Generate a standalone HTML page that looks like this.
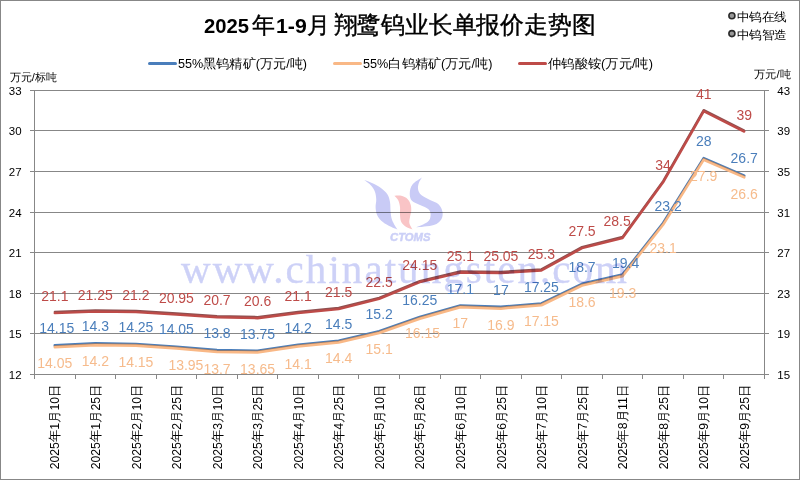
<!DOCTYPE html><html><head><meta charset="utf-8"><style>html,body{margin:0;padding:0;background:#fff;}svg{display:block;font-family:"Liberation Sans",sans-serif;}</style></head><body>
<svg width="800" height="480" viewBox="0 0 800 480">
<defs><filter id="bl" x="-10%" y="-10%" width="120%" height="120%"><feGaussianBlur stdDeviation="0.45"/></filter></defs>
<rect x="0" y="0" width="800" height="480" fill="#fff"/>
<rect x="0.5" y="0.5" width="799" height="479" fill="none" stroke="#878787" stroke-width="1"/>
<line x1="30" y1="90.5" x2="769" y2="90.5" stroke="#878787" stroke-width="1"/>
<text x="8.8" y="94.8" font-size="11.2" textLength="12.8" lengthAdjust="spacingAndGlyphs" fill="#000">33</text>
<text x="777.3" y="94.8" font-size="11.2" textLength="12.8" lengthAdjust="spacingAndGlyphs" fill="#000">43</text>
<line x1="30" y1="130.5" x2="769" y2="130.5" stroke="#878787" stroke-width="1"/>
<text x="8.8" y="134.8" font-size="11.2" textLength="12.8" lengthAdjust="spacingAndGlyphs" fill="#000">30</text>
<text x="777.3" y="134.8" font-size="11.2" textLength="12.8" lengthAdjust="spacingAndGlyphs" fill="#000">39</text>
<line x1="30" y1="171.5" x2="769" y2="171.5" stroke="#878787" stroke-width="1"/>
<text x="8.8" y="175.8" font-size="11.2" textLength="12.8" lengthAdjust="spacingAndGlyphs" fill="#000">27</text>
<text x="777.3" y="175.8" font-size="11.2" textLength="12.8" lengthAdjust="spacingAndGlyphs" fill="#000">35</text>
<line x1="30" y1="212.5" x2="769" y2="212.5" stroke="#878787" stroke-width="1"/>
<text x="8.8" y="216.8" font-size="11.2" textLength="12.8" lengthAdjust="spacingAndGlyphs" fill="#000">24</text>
<text x="777.3" y="216.8" font-size="11.2" textLength="12.8" lengthAdjust="spacingAndGlyphs" fill="#000">31</text>
<line x1="30" y1="252.5" x2="769" y2="252.5" stroke="#878787" stroke-width="1"/>
<text x="8.8" y="256.8" font-size="11.2" textLength="12.8" lengthAdjust="spacingAndGlyphs" fill="#000">21</text>
<text x="777.3" y="256.8" font-size="11.2" textLength="12.8" lengthAdjust="spacingAndGlyphs" fill="#000">27</text>
<line x1="30" y1="293.5" x2="769" y2="293.5" stroke="#878787" stroke-width="1"/>
<text x="8.8" y="297.8" font-size="11.2" textLength="12.8" lengthAdjust="spacingAndGlyphs" fill="#000">18</text>
<text x="777.3" y="297.8" font-size="11.2" textLength="12.8" lengthAdjust="spacingAndGlyphs" fill="#000">23</text>
<line x1="30" y1="333.5" x2="769" y2="333.5" stroke="#878787" stroke-width="1"/>
<text x="8.8" y="337.8" font-size="11.2" textLength="12.8" lengthAdjust="spacingAndGlyphs" fill="#000">15</text>
<text x="777.3" y="337.8" font-size="11.2" textLength="12.8" lengthAdjust="spacingAndGlyphs" fill="#000">19</text>
<line x1="30" y1="374.5" x2="769" y2="374.5" stroke="#878787" stroke-width="1"/>
<text x="8.8" y="378.8" font-size="11.2" textLength="12.8" lengthAdjust="spacingAndGlyphs" fill="#000">12</text>
<text x="777.3" y="378.8" font-size="11.2" textLength="12.8" lengthAdjust="spacingAndGlyphs" fill="#000">15</text>
<line x1="34.5" y1="90" x2="34.5" y2="379" stroke="#878787" stroke-width="1"/>
<line x1="764.5" y1="90" x2="764.5" y2="379" stroke="#878787" stroke-width="1"/>
<line x1="34.5" y1="374" x2="34.5" y2="379" stroke="#878787" stroke-width="1"/>
<line x1="75.5" y1="374" x2="75.5" y2="379" stroke="#878787" stroke-width="1"/>
<line x1="115.5" y1="374" x2="115.5" y2="379" stroke="#878787" stroke-width="1"/>
<line x1="156.5" y1="374" x2="156.5" y2="379" stroke="#878787" stroke-width="1"/>
<line x1="196.5" y1="374" x2="196.5" y2="379" stroke="#878787" stroke-width="1"/>
<line x1="237.5" y1="374" x2="237.5" y2="379" stroke="#878787" stroke-width="1"/>
<line x1="277.5" y1="374" x2="277.5" y2="379" stroke="#878787" stroke-width="1"/>
<line x1="318.5" y1="374" x2="318.5" y2="379" stroke="#878787" stroke-width="1"/>
<line x1="358.5" y1="374" x2="358.5" y2="379" stroke="#878787" stroke-width="1"/>
<line x1="399.5" y1="374" x2="399.5" y2="379" stroke="#878787" stroke-width="1"/>
<line x1="440.5" y1="374" x2="440.5" y2="379" stroke="#878787" stroke-width="1"/>
<line x1="480.5" y1="374" x2="480.5" y2="379" stroke="#878787" stroke-width="1"/>
<line x1="521.5" y1="374" x2="521.5" y2="379" stroke="#878787" stroke-width="1"/>
<line x1="561.5" y1="374" x2="561.5" y2="379" stroke="#878787" stroke-width="1"/>
<line x1="602.5" y1="374" x2="602.5" y2="379" stroke="#878787" stroke-width="1"/>
<line x1="642.5" y1="374" x2="642.5" y2="379" stroke="#878787" stroke-width="1"/>
<line x1="683.5" y1="374" x2="683.5" y2="379" stroke="#878787" stroke-width="1"/>
<line x1="723.5" y1="374" x2="723.5" y2="379" stroke="#878787" stroke-width="1"/>
<line x1="764.5" y1="374" x2="764.5" y2="379" stroke="#878787" stroke-width="1"/>
<text transform="translate(59.4 469.2) rotate(-90)" font-size="12.8" textLength="84.5"  lengthAdjust="spacingAndGlyphs" fill="#000">2025年1月10日</text>
<text transform="translate(99.9 469.2) rotate(-90)" font-size="12.8" textLength="84.5"  lengthAdjust="spacingAndGlyphs" fill="#000">2025年1月25日</text>
<text transform="translate(140.5 469.2) rotate(-90)" font-size="12.8" textLength="84.5"  lengthAdjust="spacingAndGlyphs" fill="#000">2025年2月10日</text>
<text transform="translate(181.0 469.2) rotate(-90)" font-size="12.8" textLength="84.5"  lengthAdjust="spacingAndGlyphs" fill="#000">2025年2月25日</text>
<text transform="translate(221.6 469.2) rotate(-90)" font-size="12.8" textLength="84.5"  lengthAdjust="spacingAndGlyphs" fill="#000">2025年3月10日</text>
<text transform="translate(262.2 469.2) rotate(-90)" font-size="12.8" textLength="84.5"  lengthAdjust="spacingAndGlyphs" fill="#000">2025年3月25日</text>
<text transform="translate(302.7 469.2) rotate(-90)" font-size="12.8" textLength="84.5"  lengthAdjust="spacingAndGlyphs" fill="#000">2025年4月10日</text>
<text transform="translate(343.3 469.2) rotate(-90)" font-size="12.8" textLength="84.5"  lengthAdjust="spacingAndGlyphs" fill="#000">2025年4月25日</text>
<text transform="translate(383.8 469.2) rotate(-90)" font-size="12.8" textLength="84.5"  lengthAdjust="spacingAndGlyphs" fill="#000">2025年5月10日</text>
<text transform="translate(424.4 469.2) rotate(-90)" font-size="12.8" textLength="84.5"  lengthAdjust="spacingAndGlyphs" fill="#000">2025年5月26日</text>
<text transform="translate(464.9 469.2) rotate(-90)" font-size="12.8" textLength="84.5"  lengthAdjust="spacingAndGlyphs" fill="#000">2025年6月10日</text>
<text transform="translate(505.5 469.2) rotate(-90)" font-size="12.8" textLength="84.5"  lengthAdjust="spacingAndGlyphs" fill="#000">2025年6月25日</text>
<text transform="translate(546.0 469.2) rotate(-90)" font-size="12.8" textLength="84.5"  lengthAdjust="spacingAndGlyphs" fill="#000">2025年7月10日</text>
<text transform="translate(586.6 469.2) rotate(-90)" font-size="12.8" textLength="84.5"  lengthAdjust="spacingAndGlyphs" fill="#000">2025年7月25日</text>
<text transform="translate(627.2 469.2) rotate(-90)" font-size="12.8" textLength="84.5"  lengthAdjust="spacingAndGlyphs" fill="#000">2025年8月11日</text>
<text transform="translate(667.7 469.2) rotate(-90)" font-size="12.8" textLength="84.5"  lengthAdjust="spacingAndGlyphs" fill="#000">2025年8月25日</text>
<text transform="translate(708.3 469.2) rotate(-90)" font-size="12.8" textLength="84.5"  lengthAdjust="spacingAndGlyphs" fill="#000">2025年9月10日</text>
<text transform="translate(748.8 469.2) rotate(-90)" font-size="12.8" textLength="84.5"  lengthAdjust="spacingAndGlyphs" fill="#000">2025年9月25日</text>
<path d="M54.78 345.42 L95.33 343.40 L135.89 344.07 L176.44 346.78 L217.00 350.16 L257.56 350.83 L298.11 344.75 L338.67 340.69 L379.22 331.22 L419.78 317.02 L460.33 305.53 L500.89 306.88 L541.44 303.50 L582.00 283.89 L622.56 274.42 L663.11 223.03 L703.67 158.12 L744.22 175.70" fill="none" stroke="#4a7ebb" stroke-width="2.6" stroke-linejoin="round" stroke-linecap="round"/>
<path d="M54.78 346.78 L95.33 344.75 L135.89 345.42 L176.44 348.13 L217.00 351.51 L257.56 352.19 L298.11 346.10 L338.67 342.04 L379.22 332.58 L419.78 318.38 L460.33 306.88 L500.89 308.23 L541.44 304.85 L582.00 285.24 L622.56 275.78 L663.11 224.39 L703.67 159.47 L744.22 177.05" fill="none" stroke="#9a7a66" stroke-width="2.0" stroke-linejoin="round" stroke-linecap="round" transform="translate(0 -0.6)"/>
<path d="M54.78 346.78 L95.33 344.75 L135.89 345.42 L176.44 348.13 L217.00 351.51 L257.56 352.19 L298.11 346.10 L338.67 342.04 L379.22 332.58 L419.78 318.38 L460.33 306.88 L500.89 308.23 L541.44 304.85 L582.00 285.24 L622.56 275.78 L663.11 224.39 L703.67 159.47 L744.22 177.05" fill="none" stroke="#f9b886" stroke-width="2.5" stroke-linejoin="round" stroke-linecap="round" transform="translate(0 0.4)"/>
<path d="M54.78 312.63 L95.33 311.11 L135.89 311.61 L176.44 314.15 L217.00 316.69 L257.56 317.70 L298.11 312.63 L338.67 308.57 L379.22 298.43 L419.78 281.69 L460.33 272.06 L500.89 272.56 L541.44 270.03 L582.00 247.71 L622.56 237.57 L663.11 181.79 L703.67 110.79 L744.22 131.07" fill="none" stroke="#8f5050" stroke-width="2.2" stroke-linejoin="round" stroke-linecap="round" transform="translate(0 -0.7)"/>
<path d="M54.78 312.63 L95.33 311.11 L135.89 311.61 L176.44 314.15 L217.00 316.69 L257.56 317.70 L298.11 312.63 L338.67 308.57 L379.22 298.43 L419.78 281.69 L460.33 272.06 L500.89 272.56 L541.44 270.03 L582.00 247.71 L622.56 237.57 L663.11 181.79 L703.67 110.79 L744.22 131.07" fill="none" stroke="#be4b48" stroke-width="2.4" stroke-linejoin="round" stroke-linecap="round" transform="translate(0 0.5)"/>
<text x="56.8" y="332.7" font-size="14" text-anchor="middle" fill="#4a7ebb">14.15</text>
<text x="54.8" y="368.1" font-size="14" text-anchor="middle" fill="#f6bb8c">14.05</text>
<text x="54.8" y="301.1" font-size="14" text-anchor="middle" fill="#be4b48">21.1</text>
<text x="95.3" y="331.4" font-size="14" text-anchor="middle" fill="#4a7ebb">14.3</text>
<text x="95.3" y="366.0" font-size="14" text-anchor="middle" fill="#f6bb8c">14.2</text>
<text x="95.3" y="299.6" font-size="14" text-anchor="middle" fill="#be4b48">21.25</text>
<text x="135.9" y="332.1" font-size="14" text-anchor="middle" fill="#4a7ebb">14.25</text>
<text x="135.9" y="366.7" font-size="14" text-anchor="middle" fill="#f6bb8c">14.15</text>
<text x="135.9" y="300.1" font-size="14" text-anchor="middle" fill="#be4b48">21.2</text>
<text x="176.4" y="333.8" font-size="14" text-anchor="middle" fill="#4a7ebb">14.05</text>
<text x="185.9" y="370.4" font-size="14" text-anchor="middle" fill="#f6bb8c">13.95</text>
<text x="176.4" y="302.6" font-size="14" text-anchor="middle" fill="#be4b48">20.95</text>
<text x="217.0" y="338.2" font-size="14" text-anchor="middle" fill="#4a7ebb">13.8</text>
<text x="217.0" y="373.8" font-size="14" text-anchor="middle" fill="#f6bb8c">13.7</text>
<text x="217.0" y="305.2" font-size="14" text-anchor="middle" fill="#be4b48">20.7</text>
<text x="257.6" y="338.8" font-size="14" text-anchor="middle" fill="#4a7ebb">13.75</text>
<text x="257.6" y="374.2" font-size="14" text-anchor="middle" fill="#f6bb8c">13.65</text>
<text x="257.6" y="306.2" font-size="14" text-anchor="middle" fill="#be4b48">20.6</text>
<text x="298.1" y="332.7" font-size="14" text-anchor="middle" fill="#4a7ebb">14.2</text>
<text x="298.1" y="368.9" font-size="14" text-anchor="middle" fill="#f6bb8c">14.1</text>
<text x="298.1" y="301.1" font-size="14" text-anchor="middle" fill="#be4b48">21.1</text>
<text x="338.7" y="328.7" font-size="14" text-anchor="middle" fill="#4a7ebb">14.5</text>
<text x="338.7" y="363.3" font-size="14" text-anchor="middle" fill="#f6bb8c">14.4</text>
<text x="338.7" y="297.1" font-size="14" text-anchor="middle" fill="#be4b48">21.5</text>
<text x="379.2" y="319.2" font-size="14" text-anchor="middle" fill="#4a7ebb">15.2</text>
<text x="379.2" y="353.9" font-size="14" text-anchor="middle" fill="#f6bb8c">15.1</text>
<text x="379.2" y="286.9" font-size="14" text-anchor="middle" fill="#be4b48">22.5</text>
<text x="419.8" y="305.0" font-size="14" text-anchor="middle" fill="#4a7ebb">16.25</text>
<text x="422.5" y="337.7" font-size="14" text-anchor="middle" fill="#f6bb8c">16.15</text>
<text x="419.8" y="270.2" font-size="14" text-anchor="middle" fill="#be4b48">24.15</text>
<text x="460.3" y="293.5" font-size="14" text-anchor="middle" fill="#4a7ebb">17.1</text>
<text x="460.3" y="328.2" font-size="14" text-anchor="middle" fill="#f6bb8c">17</text>
<text x="460.3" y="260.6" font-size="14" text-anchor="middle" fill="#be4b48">25.1</text>
<text x="500.9" y="294.9" font-size="14" text-anchor="middle" fill="#4a7ebb">17</text>
<text x="500.9" y="329.5" font-size="14" text-anchor="middle" fill="#f6bb8c">16.9</text>
<text x="500.9" y="261.1" font-size="14" text-anchor="middle" fill="#be4b48">25.05</text>
<text x="541.4" y="291.5" font-size="14" text-anchor="middle" fill="#4a7ebb">17.25</text>
<text x="541.4" y="326.2" font-size="14" text-anchor="middle" fill="#f6bb8c">17.15</text>
<text x="541.4" y="258.5" font-size="14" text-anchor="middle" fill="#be4b48">25.3</text>
<text x="582.0" y="271.9" font-size="14" text-anchor="middle" fill="#4a7ebb">18.7</text>
<text x="582.0" y="306.5" font-size="14" text-anchor="middle" fill="#f6bb8c">18.6</text>
<text x="582.0" y="236.2" font-size="14" text-anchor="middle" fill="#be4b48">27.5</text>
<text x="625.6" y="268.4" font-size="14" text-anchor="middle" fill="#4a7ebb">19.4</text>
<text x="622.6" y="298.1" font-size="14" text-anchor="middle" fill="#f6bb8c">19.3</text>
<text x="617.1" y="226.1" font-size="14" text-anchor="middle" fill="#be4b48">28.5</text>
<text x="668.1" y="211.0" font-size="14" text-anchor="middle" fill="#4a7ebb">23.2</text>
<text x="663.1" y="252.7" font-size="14" text-anchor="middle" fill="#f6bb8c">23.1</text>
<text x="663.1" y="170.3" font-size="14" text-anchor="middle" fill="#be4b48">34</text>
<text x="703.7" y="146.1" font-size="14" text-anchor="middle" fill="#4a7ebb">28</text>
<text x="703.7" y="180.8" font-size="14" text-anchor="middle" fill="#f6bb8c">27.9</text>
<text x="703.7" y="99.3" font-size="14" text-anchor="middle" fill="#be4b48">41</text>
<text x="744.2" y="162.7" font-size="14" text-anchor="middle" fill="#4a7ebb">26.7</text>
<text x="744.2" y="199.4" font-size="14" text-anchor="middle" fill="#f6bb8c">26.6</text>
<text x="744.2" y="119.6" font-size="14" text-anchor="middle" fill="#be4b48">39</text>
<text style="mix-blend-mode:multiply" x="181" y="282.5" font-family="Liberation Serif,serif" font-size="41" fill="#cdd1f7" stroke="#cdd1f7" stroke-width="0.35" textLength="446" lengthAdjust="spacing">www.chinatungsten.com</text>
<g filter="url(#bl)" style="mix-blend-mode:multiply">
<path fill="#c9cbf6" d="M364.40 180.10 C365.75 180.62 369.69 181.89 372.50 183.25 C375.31 184.61 378.75 186.38 381.25 188.25 C383.75 190.12 386.04 192.21 387.50 194.50 C388.96 196.79 389.48 199.08 390.00 202.00 C390.52 204.92 390.28 209.08 390.60 212.00 C390.92 214.92 391.17 217.21 391.90 219.50 C392.63 221.79 394.07 224.08 395.00 225.75 C395.93 227.42 397.08 228.88 397.50 229.50 C396.04 228.88 391.46 227.21 388.75 225.75 C386.04 224.29 383.23 222.62 381.25 220.75 C379.27 218.88 377.84 216.79 376.90 214.50 C375.96 212.21 375.71 209.50 375.60 207.00 C375.49 204.50 376.35 202.00 376.25 199.50 C376.15 197.00 375.83 194.29 375.00 192.00 C374.17 189.71 373.02 187.73 371.25 185.75 C369.48 183.77 365.54 181.04 364.40 180.10Z"/>
<path fill="#c9cbf6" d="M421.90 177.60 C420.33 178.75 414.52 181.89 412.50 184.50 C410.48 187.11 409.85 190.54 409.75 193.25 C409.65 195.96 410.19 198.78 411.90 200.75 C413.61 202.72 417.19 203.64 420.00 205.10 C422.81 206.56 426.98 207.72 428.75 209.50 C430.52 211.28 430.81 213.67 430.60 215.75 C430.39 217.83 430.00 220.03 427.50 222.00 C425.00 223.97 417.58 226.67 415.60 227.60 C418.62 227.18 429.48 226.45 433.75 225.10 C438.02 223.75 439.79 221.68 441.25 219.50 C442.71 217.32 442.92 214.50 442.50 212.00 C442.08 209.50 440.83 206.48 438.75 204.50 C436.67 202.52 432.92 201.67 430.00 200.10 C427.08 198.53 423.23 196.87 421.25 195.10 C419.27 193.33 418.52 191.47 418.10 189.50 C417.68 187.53 418.12 185.23 418.75 183.25 C419.38 181.27 421.38 178.54 421.90 177.60Z"/>
<path fill="#f9c4c6" d="M394.40 195.75 C395.54 195.75 399.07 195.22 401.25 195.75 C403.43 196.28 405.94 197.44 407.50 198.90 C409.06 200.36 409.98 202.53 410.60 204.50 C411.23 206.47 411.35 208.67 411.25 210.75 C411.15 212.83 410.31 214.92 410.00 217.00 C409.69 219.08 408.98 221.17 409.40 223.25 C409.82 225.33 411.98 228.46 412.50 229.50 C411.46 229.08 408.12 228.25 406.25 227.00 C404.38 225.75 402.29 224.08 401.25 222.00 C400.21 219.92 400.21 217.00 400.00 214.50 C399.79 212.00 400.32 209.40 400.00 207.00 C399.68 204.60 399.03 201.97 398.10 200.10 C397.17 198.22 395.02 196.47 394.40 195.75Z"/>
<text x="390" y="240.5" font-size="11.5" font-weight="bold" font-style="italic" fill="#ccd0f7" stroke="#ccd0f7" stroke-width="0.5" textLength="40.5" lengthAdjust="spacingAndGlyphs">CTOMS</text>
</g>
<text y="32.6" fill="#000"><tspan x="204" font-size="20" font-weight="bold" textLength="45" lengthAdjust="spacingAndGlyphs">2025</tspan><tspan x="251.5" font-size="23" font-weight="500" stroke="#000" stroke-width="0.4">年</tspan><tspan x="276" font-size="20" font-weight="bold" textLength="30.75" lengthAdjust="spacingAndGlyphs">1-9</tspan><tspan x="306.5" font-size="23" font-weight="500" stroke="#000" stroke-width="0.4">月</tspan><tspan x="333.5" font-size="23.5" font-weight="500" stroke="#000" stroke-width="0.4" textLength="262" lengthAdjust="spacingAndGlyphs">翔鹭钨业长单报价走势图</tspan></text>
<circle cx="731.9" cy="15.8" r="3" fill="#999" stroke="#2a2a2a" stroke-width="1.6"/><text x="736.5" y="20.8" font-size="11.6" textLength="50.5" lengthAdjust="spacingAndGlyphs" fill="#000">中钨在线</text>
<circle cx="731.9" cy="33.6" r="3" fill="#999" stroke="#2a2a2a" stroke-width="1.6"/><text x="736.5" y="38.6" font-size="11.6" textLength="50.5" lengthAdjust="spacingAndGlyphs" fill="#000">中钨智造</text>
<line x1="149.5" y1="63.6" x2="175.5" y2="63.6" stroke="#4a7ebb" stroke-width="3" stroke-linecap="round"/>
<text x="178" y="68" font-size="12.5" fill="#000" textLength="129" lengthAdjust="spacingAndGlyphs">55%黑钨精矿(万元/吨)</text>
<line x1="334.5" y1="63.6" x2="360.5" y2="63.6" stroke="#f9b886" stroke-width="3" stroke-linecap="round"/>
<text x="363" y="68" font-size="12.5" fill="#000" textLength="129.5" lengthAdjust="spacingAndGlyphs">55%白钨精矿(万元/吨)</text>
<line x1="519.5" y1="63.6" x2="545.5" y2="63.6" stroke="#be4b48" stroke-width="3" stroke-linecap="round"/>
<text x="548" y="68" font-size="12.5" fill="#000" textLength="105" lengthAdjust="spacingAndGlyphs">仲钨酸铵(万元/吨)</text>
<text x="9.5" y="80.5" font-size="11" fill="#000" textLength="47.5" lengthAdjust="spacingAndGlyphs">万元/标吨</text>
<text x="754" y="78.3" font-size="11" fill="#000" textLength="37" lengthAdjust="spacingAndGlyphs">万元/吨</text>
</svg></body></html>
